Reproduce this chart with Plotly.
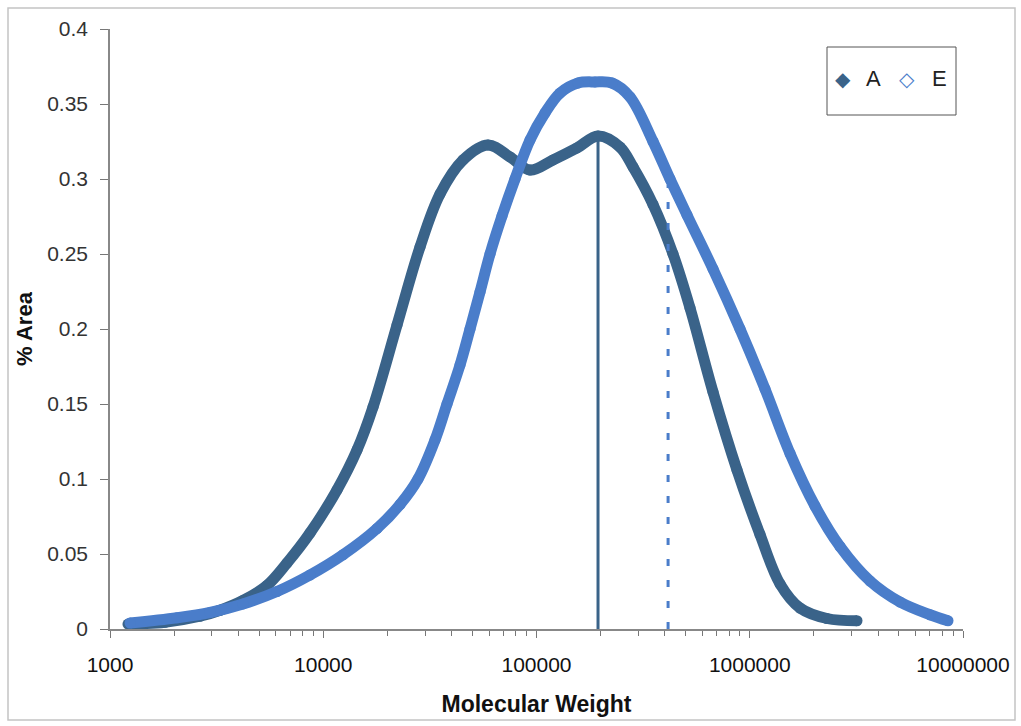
import plotly.graph_objects as go

# Molecular weight distribution curves (GPC), % area vs molecular weight
mw_a = [1214, 1811, 2642, 3281, 4205, 5447, 6761, 8667, 11600, 14400, 17120,
        22180, 28430, 35280, 45230, 59230, 75110, 93230, 119500, 154900,
        194300, 246400, 283600, 351800, 436600, 524700, 672500, 871300,
        1117000, 1387000, 1720000, 2302000, 3184000]
area_a = [0.0033, 0.0045, 0.0085, 0.0125, 0.0190, 0.0290, 0.0440, 0.0640,
          0.0927, 0.1193, 0.1480, 0.2027, 0.2547, 0.2900, 0.3127, 0.3227,
          0.3147, 0.3060, 0.3127, 0.3207, 0.3287, 0.3213, 0.3080, 0.2830,
          0.2500, 0.2140, 0.1580, 0.1060, 0.0630, 0.0300, 0.0140, 0.0070,
          0.0055]

mw_e = [1241, 2062, 2944, 4205, 6069, 8667, 12380, 17870, 22910, 27820,
        33420, 38050, 43790, 48780, 54340, 60530, 68900, 79300, 93230,
        109600, 128900, 156500, 188100, 226000, 274500, 351800, 422700,
        507800, 672500, 900100, 1179000, 1545000, 2023000, 2650000, 3664000,
        5065000, 7003000, 8506000]
area_e = [0.0040, 0.0075, 0.0110, 0.0167, 0.0250, 0.0360, 0.0495, 0.0670,
          0.0830, 0.1000, 0.1260, 0.1500, 0.1760, 0.2000, 0.2247, 0.2500,
          0.2753, 0.3000, 0.3260, 0.3440, 0.3573, 0.3640, 0.3647, 0.3640,
          0.3547, 0.3250, 0.3000, 0.2760, 0.2400, 0.2000, 0.1600, 0.1170,
          0.0820, 0.0550, 0.0320, 0.0180, 0.0095, 0.0055]

# Reference molecular weights marked by vertical lines
ref_mw_a = 194300
ref_top_a = 0.3287
ref_mw_e = 414000
ref_top_e = 0.2960

x_tickvals = [1000, 10000, 100000, 1000000, 10000000]
x_ticktext = ["1000", "10000", "100000", "1000000", "10000000"]
y_tickvals = [0, 0.05, 0.1, 0.15, 0.2, 0.25, 0.3, 0.35, 0.4]
y_ticktext = ["0", "0.05", "0.1", "0.15", "0.2", "0.25", "0.3", "0.35", "0.4"]

COLOR_A = "#3a6389"
COLOR_E = "#4a7dca"
FONT = "Liberation Sans, Arial"

fig = go.Figure()

fig.add_trace(go.Scatter(
    x=mw_a, y=area_a, name="A", mode="lines+markers",
    line=dict(color=COLOR_A, width=11, shape="spline", smoothing=1.0),
    marker=dict(color=COLOR_A, size=11, symbol="circle"),
    showlegend=False,
))
fig.add_trace(go.Scatter(
    x=[ref_mw_a, ref_mw_a], y=[0, ref_top_a], mode="lines",
    line=dict(color=COLOR_A, width=3), showlegend=False, hoverinfo="skip",
))
fig.add_trace(go.Scatter(
    x=mw_e, y=area_e, name="E", mode="lines+markers",
    line=dict(color=COLOR_E, width=11, shape="spline", smoothing=1.0),
    marker=dict(color=COLOR_E, size=11, symbol="circle"),
    showlegend=False,
))
fig.add_trace(go.Scatter(
    x=[ref_mw_e, ref_mw_e], y=[0, ref_top_e], mode="lines",
    line=dict(color=COLOR_E, width=3, dash="7px,14px"),
    showlegend=False, hoverinfo="skip",
))

# plot area spans pixels x 110..963 and y 29..629
L, R, T, B = 110, 963, 29, 629


def px(xp):
    return (xp - L) / (R - L)


def py(yp):
    return (B - yp) / (B - T)


shapes = [
    # outer chart border
    dict(type="rect", xref="paper", yref="paper",
         x0=px(8), x1=px(1015), y0=py(720), y1=py(8),
         line=dict(color="#c4c4c4", width=1.5), layer="below"),
    # legend box
    dict(type="rect", xref="paper", yref="paper",
         x0=px(827), x1=px(956), y0=py(115), y1=py(47),
         line=dict(color="#555555", width=1), fillcolor="white"),
]

annotations = [
    dict(xref="paper", yref="paper", x=px(853), y=py(79), text="◆",
         yanchor="middle", showarrow=False,
         font=dict(color=COLOR_A, size=20, family="DejaVu Sans")),
    dict(xref="paper", yref="paper", x=px(864), y=py(78), text="A",
         xanchor="left", yanchor="middle", showarrow=False,
         font=dict(color="#222222", size=22, family=FONT)),
    dict(xref="paper", yref="paper", x=px(917), y=py(79), text="◇",
         yanchor="middle", showarrow=False,
         font=dict(color=COLOR_E, size=20, family="DejaVu Sans")),
    dict(xref="paper", yref="paper", x=px(930), y=py(78), text="E",
         xanchor="left", yanchor="middle", showarrow=False,
         font=dict(color="#222222", size=22, family=FONT)),
]

fig.update_layout(
    width=1021, height=726,
    margin=dict(l=L, r=1021 - R, t=T, b=726 - B),
    paper_bgcolor="white", plot_bgcolor="white",
    font=dict(family=FONT, color="#222222"),
    showlegend=False,
    shapes=shapes,
    annotations=annotations,
)

fig.update_xaxes(
    type="log", range=[3, 7],
    tickvals=x_tickvals, ticktext=x_ticktext,
    ticks="outside", ticklen=7, tickcolor="#777777",
    ticklabelstandoff=9,
    tickfont=dict(size=21, color="#111111"),
    minor=dict(ticks="outside", ticklen=5, tickcolor="#777777", dtick="D1"),
    showline=True, linecolor="#888888", linewidth=1.5,
    showgrid=False, zeroline=False,
    title=dict(text="<b>Molecular Weight</b>",
               font=dict(size=23, color="#111111"), standoff=21),
)
fig.update_yaxes(
    range=[0, 0.4],
    tickvals=y_tickvals, ticktext=y_ticktext,
    ticks="outside", ticklen=8, tickcolor="#777777",
    ticklabelstandoff=8,
    tickfont=dict(size=21, color="#333333"),
    showline=True, linecolor="#888888", linewidth=1.5,
    showgrid=False, zeroline=False,
    title=dict(text="<b>% Area</b>",
               font=dict(size=22, color="#111111"), standoff=8),
)

fig.write_html("out.html")
